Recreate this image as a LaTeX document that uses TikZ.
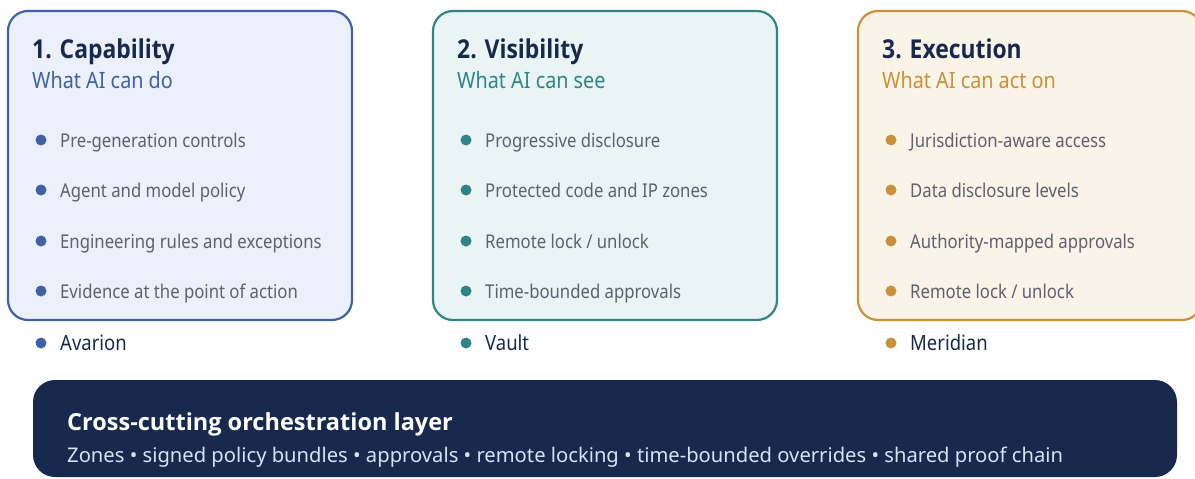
\documentclass[tikz,border=0pt]{standalone}
\usepackage{fontspec}
\setmainfont{Noto Sans}[FakeStretch=0.88, BoldFont={Open Sans Bold}]
\newfontfamily\layerfont{Noto Sans}[BoldFont={Open Sans Bold}]
\usetikzlibrary{positioning}

\definecolor{capline}{HTML}{3E62A3}
\definecolor{capfill}{HTML}{EBF0FA}
\definecolor{visline}{HTML}{2F8585}
\definecolor{visfill}{HTML}{EAF4F4}
\definecolor{exeline}{HTML}{C9913A}
\definecolor{exefill}{HTML}{FAF3E8}
\definecolor{navy}{HTML}{172A4D}
\definecolor{itemgray}{HTML}{5B6270}
\definecolor{paleblue}{HTML}{D6E2F4}

\begin{document}
\begin{tikzpicture}[x=1pt,y=-1pt,
  panel/.style={line width=2.2pt, rounded corners=20pt},
  title/.style={anchor=base west, inner sep=0pt, font=\fontsize{26}{30}\selectfont\bfseries, text=navy},
  subtitle/.style={anchor=base west, inner sep=0pt, font=\fontsize{22.5}{26}\selectfont},
  item/.style={anchor=base west, inner sep=0pt, font=\fontsize{19}{22}\selectfont, text=itemgray},
  product/.style={anchor=base west, inner sep=0pt, font=\fontsize{21}{24}\selectfont, text=navy}]

\useasboundingbox (0,0) rectangle (1195,479);

\def \boxtop {11}
\def \boxbot {320}
\def \boxwidth {344}
\def \textshift {24}
\def \dotshift {33}
\def \itemshift {52}
\def \dotsize {5.5}

% panel 1
\def \px {8}
\draw [panel, draw=capline, fill=capfill] (\px,\boxtop) rectangle (\px+\boxwidth,\boxbot);
\node [title] (captitle) at (\px+\textshift,58) {1. Capability};
\node [subtitle, text=capline] (capsub) at (\px+\textshift,88) {What AI can do};
\fill [capline] (\px+\dotshift,140) circle [radius=\dotsize];
\node [item] (capa) at (\px+\itemshift,147) {Pre-generation controls};
\fill [capline] (\px+\dotshift,190) circle [radius=\dotsize];
\node [item] (capb) at (\px+\itemshift,197) {Agent and model policy};
\fill [capline] (\px+\dotshift,241) circle [radius=\dotsize];
\node [item] (capc) at (\px+\itemshift,248) {Engineering rules and exceptions};
\fill [capline] (\px+\dotshift,291) circle [radius=\dotsize];
\node [item] (capd) at (\px+\itemshift,298) {Evidence at the point of action};
\fill [capline] (\px+\dotshift,343) circle [radius=\dotsize];
\node [product] (capprod) at (\px+\itemshift,350) {Avarion};

% panel 2
\def \px {433}
\draw [panel, draw=visline, fill=visfill] (\px,\boxtop) rectangle (\px+\boxwidth,\boxbot);
\node [title] (vistitle) at (\px+\textshift,58) {2. Visibility};
\node [subtitle, text=visline] (vissub) at (\px+\textshift,88) {What AI can see};
\fill [visline] (\px+\dotshift,140) circle [radius=\dotsize];
\node [item] (visa) at (\px+\itemshift,147) {Progressive disclosure};
\fill [visline] (\px+\dotshift,190) circle [radius=\dotsize];
\node [item] (visb) at (\px+\itemshift,197) {Protected code and IP zones};
\fill [visline] (\px+\dotshift,241) circle [radius=\dotsize];
\node [item] (visc) at (\px+\itemshift,248) {Remote lock / unlock};
\fill [visline] (\px+\dotshift,291) circle [radius=\dotsize];
\node [item] (visd) at (\px+\itemshift,298) {Time-bounded approvals};
\fill [visline] (\px+\dotshift,343) circle [radius=\dotsize];
\node [product] (visprod) at (\px+\itemshift,350) {Vault};

% panel 3
\def \px {858}
\draw [panel, draw=exeline, fill=exefill] (\px,\boxtop) rectangle (\px+\boxwidth,\boxbot);
\node [title] (exetitle) at (\px+\textshift,58) {3. Execution};
\node [subtitle, text=exeline] (exesub) at (\px+\textshift,88) {What AI can act on};
\fill [exeline] (\px+\dotshift,140) circle [radius=\dotsize];
\node [item] (exea) at (\px+\itemshift,147) {Jurisdiction-aware access};
\fill [exeline] (\px+\dotshift,190) circle [radius=\dotsize];
\node [item] (exeb) at (\px+\itemshift,197) {Data disclosure levels};
\fill [exeline] (\px+\dotshift,241) circle [radius=\dotsize];
\node [item] (exec) at (\px+\itemshift,248) {Authority-mapped approvals};
\fill [exeline] (\px+\dotshift,291) circle [radius=\dotsize];
\node [item] (exed) at (\px+\itemshift,298) {Remote lock / unlock};
\fill [exeline] (\px+\dotshift,343) circle [radius=\dotsize];
\node [product] (exeprod) at (\px+\itemshift,350) {Meridian};

% orchestration layer
\fill [navy, rounded corners=22pt] (33,380) rectangle (1177,477);
\node [anchor=base west, inner sep=0pt, font=\layerfont\fontsize{23.5}{27}\selectfont\bfseries, text=white] (layertitle) at (67,430) {Cross-cutting orchestration layer};
\node [anchor=base west, inner sep=0pt, font=\layerfont\fontsize{20.2}{24}\selectfont, text=paleblue] (layerlist) at (67,462) {Zones \textbullet{} signed policy bundles \textbullet{} approvals \textbullet{} remote locking \textbullet{} time-bounded overrides \textbullet{} shared proof chain};
\end{tikzpicture}
\end{document}
